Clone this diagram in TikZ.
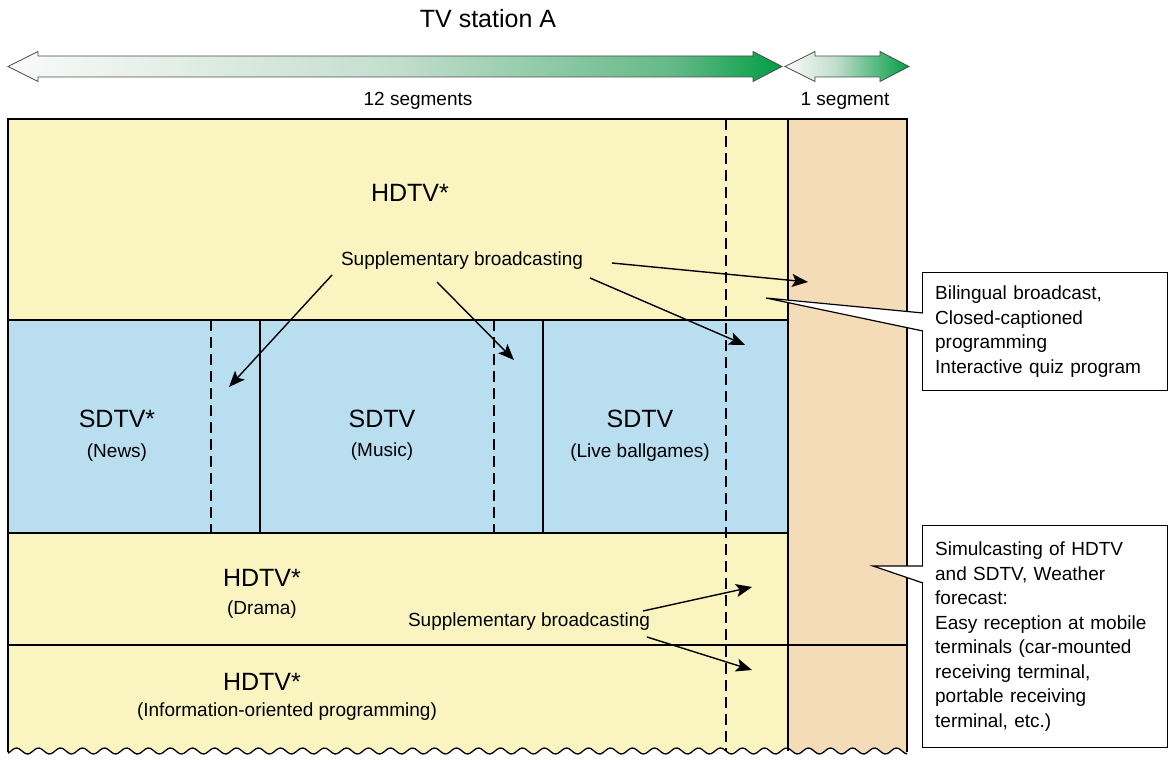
\documentclass[tikz,border=0pt]{standalone}
\usepackage{fontspec}
\setmainfont{Liberation Sans}
\usetikzlibrary{arrows.meta,calc}
\definecolor{ylw}{RGB}{250,244,192}
\definecolor{blu}{RGB}{184,222,240}
\definecolor{org}{RGB}{245,220,185}
\definecolor{gL}{RGB}{250,250,250}
\definecolor{gM}{RGB}{195,222,205}
\definecolor{gMM}{RGB}{100,185,135}
\definecolor{gR}{RGB}{0,158,68}
\pgfdeclarehorizontalshading{grnbig}{100bp}{color(0bp)=(gL); color(25bp)=(gL); color(50bp)=(gM); color(68bp)=(gMM); color(75bp)=(gR); color(100bp)=(gR)}
\pgfdeclarehorizontalshading{grnsmall}{100bp}{color(0bp)=(gL); color(25bp)=(gL); color(45bp)=(gM); color(75bp)=(gR); color(100bp)=(gR)}
\begin{document}
\begin{tikzpicture}[x=1pt,y=-1pt,
  bord/.style={line width=1.3pt},
  dsh/.style={line width=1.3pt, dash pattern=on 11pt off 6pt},
  arr/.style={line width=1.4pt, -{Stealth[length=16pt,width=13pt,inset=3.5pt]}},
  bigt/.style={font=\fontsize{25}{30}\selectfont, anchor=base, inner sep=0pt},
  smt/.style={font=\fontsize{19}{24}\selectfont, anchor=base, inner sep=0pt},
  call/.style={draw, line width=1.3pt, fill=white, align=left, text width=220pt, inner xsep=12.5pt, anchor=north west, font=\fontsize{19}{24.5}\selectfont},
  garrow/.style={draw=black!70, line width=0.8pt}]
\useasboundingbox (0,0) rectangle (1170,760);
% fills
\fill[ylw] (8,119) -- (788,119) -- (788,751) -- plot[domain=788:8,samples=200] (\x,{751+3*sin(mod(\x,22)/22*360)}) -- cycle;
\fill[blu] (8,320) rectangle (788,533);
\fill[org] (788,119) -- (907,119) -- (907,751) -- plot[domain=907:788,samples=60] (\x,{751+3*sin(mod(\x,22)/22*360)}) -- cycle;
% borders
\draw[bord] (8,752) -- (8,119) -- (907,119) -- (907,752);
\draw[bord] plot[domain=8:907,samples=400] (\x,{751+3*sin(mod(\x,22)/22*360)});
\draw[bord] (788,119) -- (788,751);
\draw[bord] (8,320) -- (788,320);
\draw[bord] (8,533) -- (788,533);
\draw[bord] (8,645) -- (907,645);
\draw[bord] (260,320) -- (260,533);
\draw[bord] (543,320) -- (543,533);
\draw[dsh] (211,320) -- (211,533);
\draw[dsh] (494,320) -- (494,533);
\draw[dsh] (726,119) -- (726,751);
% top arrows
\path[garrow, shading=grnbig] (8,66.5) -- (38,51.5) -- (38,56) -- (753,56) -- (753,51.5) -- (782,66.5) -- (753,81.5) -- (753,77) -- (38,77) -- (38,81.5) -- cycle;
\path[garrow, shading=grnsmall] (785,66.5) -- (815,51.5) -- (815,56) -- (880,56) -- (880,51.5) -- (909,66.5) -- (880,81.5) -- (880,77) -- (815,77) -- (815,81.5) -- cycle;
\node[bigt] (title) at (488,28) {TV station A};
\node[smt] (seg12) at (418,106) {12 segments};
\node[smt] (seg1) at (845,106) {1 segment};
% labels
\node[bigt] (hd1) at (410,201) {HDTV*};
\node[smt] (sup1) at (462,265) {Supplementary broadcasting};
\node[bigt] (sd1) at (117,427) {SDTV*};
\node[smt] (sd1b) at (117,457) {(News)};
\node[bigt] (sd2) at (382,427) {SDTV};
\node[smt] (sd2b) at (382,456) {(Music)};
\node[bigt] (sd3) at (640,427) {SDTV};
\node[smt] (sd3b) at (640,457) {(Live ballgames)};
\node[bigt] (hd2) at (262,586) {HDTV*};
\node[smt] (hd2b) at (262,614) {(Drama)};
\node[smt] (sup2) at (529,626) {Supplementary broadcasting};
\node[bigt] (hd3) at (262,690) {HDTV*};
\node[smt] (hd3b) at (287,716) {(Information-oriented programming)};
% arrows
\coordinate (a1s) at (332,275); \coordinate (a1e) at (229,387);
\coordinate (a2s) at (437,282); \coordinate (a2e) at (514,360);
\coordinate (a3s) at (590,278); \coordinate (a3e) at (745,345);
\coordinate (a4s) at (612,263); \coordinate (a4e) at (808,282);
\coordinate (a5s) at (643,611); \coordinate (a5e) at (752,587);
\coordinate (a6s) at (647,637); \coordinate (a6e) at (752,670);
\draw[arr] (a1s) -- (a1e);
\draw[arr] (a2s) -- (a2e);
\draw[arr] (a3s) -- (a3e);
\draw[arr] (a4s) -- (a4e);
\draw[arr] (a5s) -- (a5e);
\draw[arr] (a6s) -- (a6e);
% callouts
\node[call, minimum height=118pt] (c1) at (922,272) {Bilingual broadcast,\\Closed-captioned\\programming\\Interactive quiz program};
\node[call, minimum height=222pt] (c2) at (922,525) {Simulcasting of HDTV\\and SDTV, Weather\\forecast:\\Easy reception at mobile\\terminals (car-mounted\\receiving terminal,\\portable receiving\\terminal, etc.)};
\coordinate (p1) at (766,298);
\coordinate (p1a) at ($(c1.north west)+(1,41)$);
\coordinate (p1b) at ($(c1.north west)+(1,59)$);
\fill[white] (p1) -- (p1a) -- (p1b) -- cycle;
\draw[line width=1.2pt] (p1a) -- (p1) -- (p1b);
\coordinate (p2) at (873,566);
\coordinate (p2a) at ($(c2.north west)+(1,41)$);
\coordinate (p2b) at ($(c2.north west)+(1,58)$);
\fill[white] (p2) -- (p2a) -- (p2b) -- cycle;
\draw[line width=1.2pt] (p2a) -- (p2) -- (p2b);
\end{tikzpicture}
\end{document}
